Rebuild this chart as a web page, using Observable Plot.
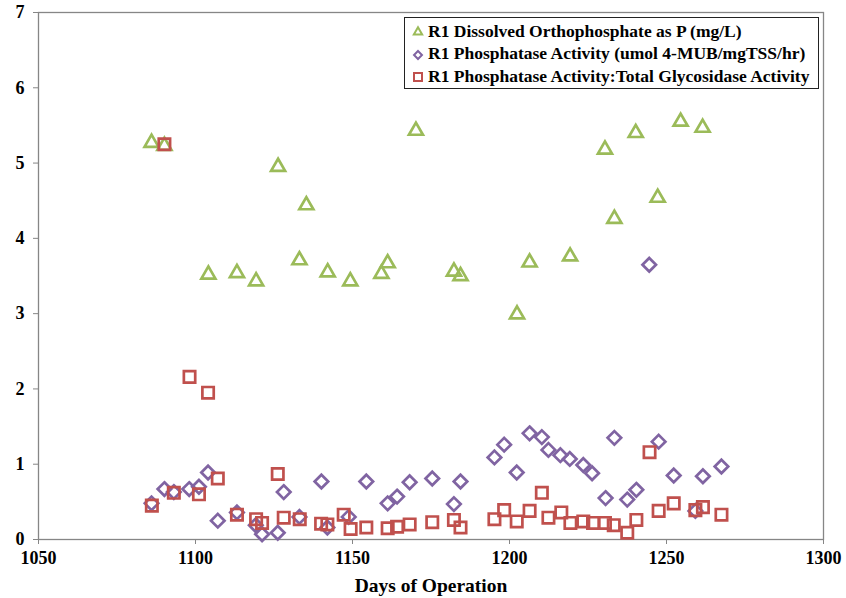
<!DOCTYPE html>
<html>
<head>
<meta charset="utf-8">
<script src="https://cdn.jsdelivr.net/npm/d3@7"></script>
<script src="https://cdn.jsdelivr.net/npm/@observablehq/plot@0.6"></script>
<style>
  body { margin: 0; background: #fff; }
  #wrap { position: relative; width: 846px; height: 598px; }
  #legend {
    position: absolute; left: 404px; top: 17px; width: 413px; height: 70px;
    border: 1px solid #222; background: #fff;
    font-family: "Liberation Serif", "Times New Roman", serif; font-weight: bold;
    font-size: 17.5px; color: #000;
  }
  #legend .row { position: absolute; left: 6px; height: 20px; display: flex; align-items: center; white-space: nowrap; }
  #legend svg { margin-right: 3px; }
</style>
</head>
<body>
<div id="wrap"><div id="legend"></div></div>
<script>
// ---- Data ----
const seriesNames = [
  "R1 Dissolved Orthophosphate as P (mg/L)",
  "R1 Phosphatase Activity (umol 4-MUB/mgTSS/hr)",
  "R1 Phosphatase Activity:Total Glycosidase Activity"
];
const seriesColors = ["#9BBB59", "#8064A2", "#C0504D"];

const orthoDays = [1086.0, 1090.1, 1104.1, 1113.2, 1119.3, 1126.3, 1135.3, 1133.1, 1142.1, 1149.3, 1159.2, 1161.2,
  1170.2, 1182.3, 1184.4, 1202.4, 1206.4, 1219.3, 1230.4, 1233.4, 1240.2, 1247.2, 1254.5, 1261.5];
const orthoP = [5.27, 5.23, 3.52, 3.54, 3.43, 4.95, 4.44, 3.71, 3.55, 3.43, 3.53, 3.67,
  5.43, 3.56, 3.50, 2.99, 3.68, 3.76, 5.18, 4.26, 5.40, 4.54, 5.55, 5.47];

const activityDays = [1086.0, 1090.1, 1093.1, 1098.0, 1101.1, 1104.0, 1107.1, 1113.2, 1119.2, 1121.2, 1126.2, 1128.1,
  1133.1, 1140.1, 1142.0, 1148.8, 1154.4, 1161.2, 1164.2, 1168.2, 1175.4, 1182.3, 1184.4, 1195.2, 1198.3, 1202.3,
  1206.4, 1210.3, 1212.4, 1216.2, 1219.2, 1223.5, 1226.3, 1230.6, 1233.4, 1237.5, 1240.4, 1244.5, 1247.5, 1252.3,
  1259.2, 1261.6, 1267.5];
const activity = [0.48, 0.67, 0.63, 0.67, 0.70, 0.89, 0.25, 0.36, 0.19, 0.07, 0.09, 0.63,
  0.30, 0.77, 0.16, 0.30, 0.77, 0.48, 0.57, 0.76, 0.81, 0.47, 0.77, 1.09, 1.26, 0.89,
  1.41, 1.36, 1.19, 1.12, 1.07, 0.99, 0.88, 0.55, 1.35, 0.53, 0.66, 3.65, 1.30, 0.85,
  0.38, 0.84, 0.97];

const ratioDays = [1086.1, 1090.1, 1093.1, 1098.1, 1101.1, 1104.0, 1107.1, 1113.2, 1119.3, 1121.2, 1126.2, 1128.1,
  1133.2, 1140.0, 1142.0, 1147.2, 1149.4, 1154.4, 1161.2, 1164.2, 1168.2, 1175.4, 1182.3, 1184.4, 1195.2, 1198.3,
  1202.3, 1206.4, 1210.3, 1212.4, 1216.5, 1219.4, 1223.5, 1226.6, 1230.4, 1233.2, 1237.5, 1240.4, 1244.6, 1247.5,
  1252.3, 1259.2, 1261.6, 1267.5];
const ratio = [0.45, 5.25, 0.62, 2.16, 0.60, 1.95, 0.81, 0.33, 0.27, 0.22, 0.87, 0.29,
  0.27, 0.21, 0.20, 0.33, 0.14, 0.16, 0.15, 0.17, 0.20, 0.23, 0.26, 0.16, 0.27, 0.39,
  0.24, 0.38, 0.62, 0.29, 0.36, 0.22, 0.24, 0.22, 0.22, 0.19, 0.09, 0.26, 1.16, 0.38,
  0.48, 0.39, 0.43, 0.33];

const xTicks = [1050, 1100, 1150, 1200, 1250, 1300];
const yTicks = [0, 1, 2, 3, 4, 5, 6, 7];
const xTitle = "Days of Operation";

// ---- Build tables ----
const pts = (xs, ys) => xs.map((d, i) => ({day: d, v: ys[i]}));
const dOrtho = pts(orthoDays, orthoP);
const dAct = pts(activityDays, activity);
const dRatio = pts(ratioDays, ratio);

const font = "'Liberation Serif', 'Times New Roman', serif";

const chart = Plot.plot({
  width: 846,
  height: 598,
  marginLeft: 38,
  marginRight: 23,
  marginTop: 12,
  marginBottom: 59,
  style: {fontFamily: font, fontSize: "18px", fontWeight: "bold", color: "#000", background: "#fff"},
  x: {domain: [1050, 1300]},
  y: {domain: [0, 7]},
  marks: [
    Plot.frame({stroke: "#868686", strokeWidth: 1.3}),
    Plot.axisX({ticks: xTicks, tickSize: 5, tickPadding: 7, stroke: "#868686", fill: "#000", label: null, tickFormat: d => String(d)}),
    Plot.axisY({ticks: yTicks, tickSize: 5, tickPadding: 9, stroke: "#868686", fill: "#000", label: null, tickFormat: d => String(d)}),
    Plot.dot(dOrtho, {x: "day", y: "v", symbol: "triangle", r: 5.2, stroke: seriesColors[0], strokeWidth: 2.7, fill: "none"}),
    Plot.dot(dAct, {x: "day", y: "v", symbol: "diamond2", r: 6.1, stroke: seriesColors[1], strokeWidth: 2.7, fill: "none"}),
    Plot.dot(dRatio, {x: "day", y: "v", symbol: "square", r: 6.4, stroke: seriesColors[2], strokeWidth: 2.7, fill: "none"}),
    Plot.text([xTitle], {frameAnchor: "bottom", dy: 52, fontSize: 19.5, fontWeight: "bold", fill: "#000"})
  ]
});
document.getElementById("wrap").prepend(chart);

// ---- Legend ----
const legend = document.getElementById("legend");
const symTypes = [d3.symbolTriangle, d3.symbolDiamond2, d3.symbolSquare];
const symSize = [30, 40, 64];
seriesNames.forEach((name, i) => {
  const row = document.createElement("div");
  row.className = "row";
  row.style.top = (3 + i * 22.7) + "px";
  const s = d3.create("svg").attr("width", 14).attr("height", 16);
  s.append("path").attr("d", d3.symbol(symTypes[i], symSize[i])()).attr("transform", "translate(7,9)")
    .attr("fill", "none").attr("stroke", seriesColors[i]).attr("stroke-width", 2);
  row.appendChild(s.node());
  const t = document.createElement("span");
  t.textContent = name;
  row.appendChild(t);
  legend.appendChild(row);
});
</script>
</body>
</html>
